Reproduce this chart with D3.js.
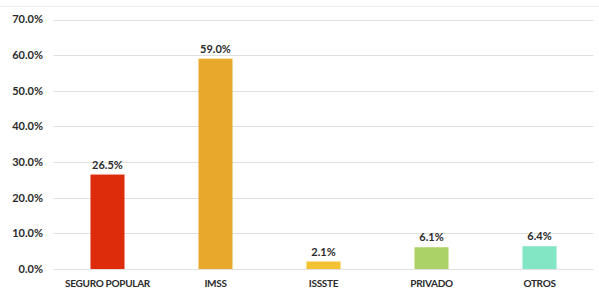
<!DOCTYPE html>
<meta charset="utf-8">
<head>
    <script src="https://d3js.org/d3.v7.min.js"></script>
    <style>
        body { margin: 0; background: white; }
        text { font-family: Lato, "Open Sans", sans-serif; font-weight: 700; fill: #2b2b2b; }
    </style>
</head>
<body>
    <div id="chart"></div>
    <script>
        // data
        var categories = ["SEGURO POPULAR", "IMSS", "ISSSTE", "PRIVADO", "OTROS"];
        var values = [26.5, 59.0, 2.1, 6.1, 6.4];
        var barColors = ["#dd2c0c", "#e8a82b", "#f2c232", "#abd266", "#82e6c5"];
        var yTicks = [0, 10, 20, 30, 40, 50, 60, 70];

        var width = 599, height = 290;
        var margin = { top: 19.5, right: 5.5, bottom: 21, left: 53.5 };

        var svg = d3.select("#chart").append("svg")
            .attr("width", width)
            .attr("height", height);

        // faint outer frame line
        svg.append("line")
            .attr("x1", 0).attr("x2", width)
            .attr("y1", 6.5).attr("y2", 6.5)
            .attr("stroke", "#ececec");

        var x = d3.scaleBand()
            .domain(categories)
            .range([margin.left, width - margin.right])
            .paddingInner(0.685)
            .paddingOuter(0.3425);

        var y = d3.scaleLinear()
            .domain([0, 70])
            .range([height - margin.bottom, margin.top]);

        // gridlines
        svg.append("g")
            .selectAll("line")
            .data(yTicks)
            .enter()
            .append("line")
            .attr("x1", margin.left)
            .attr("x2", width - margin.right)
            .attr("y1", function(d) { return Math.round(y(d)) + 0.5; })
            .attr("y2", function(d) { return Math.round(y(d)) + 0.5; })
            .attr("stroke", "#e0e0e0")
            .attr("stroke-width", 1);

        // y labels
        svg.append("g")
            .selectAll("text")
            .data(yTicks)
            .enter()
            .append("text")
            .attr("x", 43)
            .attr("y", function(d) { return y(d); })
            .attr("dy", "0.35em")
            .attr("text-anchor", "end")
            .style("font-size", "11px")
            .text(function(d) { return d3.format(".1f")(d) + "%"; });

        // bars
        svg.append("g")
            .selectAll("rect")
            .data(values)
            .enter()
            .append("rect")
            .attr("x", function(d, i) { return x(categories[i]); })
            .attr("width", x.bandwidth())
            .attr("y", function(d) { return y(d); })
            .attr("height", function(d) { return y(0) - y(d); })
            .attr("fill", function(d, i) { return barColors[i]; });

        // value labels
        svg.append("g")
            .selectAll("text")
            .data(values)
            .enter()
            .append("text")
            .attr("x", function(d, i) { return x(categories[i]) + x.bandwidth() / 2; })
            .attr("y", function(d) { return y(d) - 6; })
            .attr("text-anchor", "middle")
            .style("font-size", "11px")
            .text(function(d) { return d3.format(".1f")(d) + "%"; });

        // category labels
        svg.append("g")
            .selectAll("text")
            .data(categories)
            .enter()
            .append("text")
            .attr("x", function(d) { return x(d) + x.bandwidth() / 2; })
            .attr("y", 283)
            .attr("dy", "0.35em")
            .attr("text-anchor", "middle")
            .style("font-size", "10px")
            .style("letter-spacing", "-0.3px")
            .text(function(d) { return d; });
    </script>
</body>
</html>
